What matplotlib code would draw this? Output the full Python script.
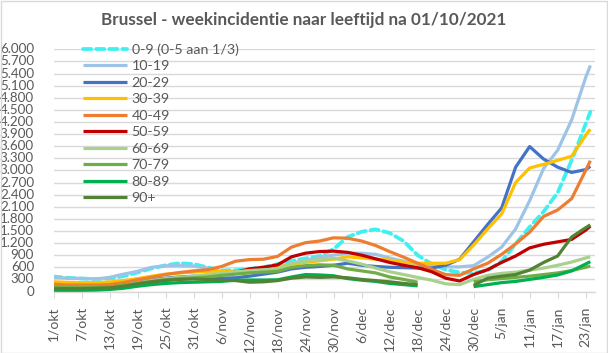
import numpy as np
import matplotlib
matplotlib.use("Agg")
import matplotlib.pyplot as plt
from matplotlib.ticker import FuncFormatter
from matplotlib.patches import Rectangle

nan = np.nan

# day offsets since 1 Oct 2021
days = [0, 3, 6, 9, 12, 15, 18, 21, 24, 27, 30, 33, 36, 39, 42, 45, 48, 51, 54, 57,
        60, 63, 66, 69, 72, 75, 78, 81, 84, 87, 90, 93, 96, 99, 102, 105, 108, 111, 114, 115]

age_labels = ["0-9 (0-5 aan 1/3)", "10-19", "20-29", "30-39", "40-49",
              "50-59", "60-69", "70-79", "80-89", "90+"]

v_0_9 = [370, 340, 320, 310, 320, 380, 470, 570, 650, 700, 680, 600, 520, 530, 560, 600, 680, 760, 820, 880,
         1050, 1350, 1480, 1540, 1450, 1250, 900, 680, 540, 470, 460, 520, 750, 1180, 1600, 1980, 2450, 3250, 4150, 4450]
v_10_19 = [350, 330, 325, 310, 350, 430, 500, 600, 635, 640, 630, 580, 480, 470, 500, 540, 600, 700, 770, 850,
           900, 950, 950, 920, 830, 750, 670, 630, 610, 610, 640, 850, 1100, 1550, 2250, 3050, 3500, 4250, 5300, 5600]
v_20_29 = [160, 150, 150, 150, 170, 220, 270, 300, 330, 360, 380, 360, 330, 340, 380, 430, 480, 560, 600, 620,
           650, 700, 650, 620, 600, 590, 580, 580, 650, 800, 1230, 1660, 2070, 3080, 3590, 3280, 3080, 2950, 3020, 3100]
v_30_39 = [240, 225, 220, 220, 235, 270, 320, 380, 430, 460, 480, 500, 500, 500, 520, 560, 600, 680, 720, 760,
           800, 860, 830, 800, 780, 720, 700, 700, 700, 790, 1150, 1550, 1920, 2700, 3060, 3150, 3250, 3350, 3870, 4020]
v_40_49 = [180, 160, 160, 160, 170, 220, 290, 350, 420, 470, 510, 540, 620, 750, 790, 800, 870, 1100, 1210, 1250,
           1330, 1320, 1250, 1140, 990, 850, 700, 550, 420, 400, 560, 700, 920, 1180, 1470, 1860, 2020, 2300, 3000, 3240]
v_50_59 = [90, 90, 95, 95, 110, 150, 190, 230, 280, 310, 340, 370, 430, 480, 560, 600, 660, 860, 950, 990,
           1000, 970, 900, 810, 720, 650, 590, 490, 330, 260, 420, 540, 720, 880, 1080, 1170, 1230, 1290, 1520, 1620]
v_60_69 = [100, 100, 100, 100, 110, 150, 210, 270, 320, 350, 380, 420, 450, 490, 520, 540, 560, 700, 750, 790,
           820, 760, 680, 580, 490, 420, 350, 280, 190, 170, 300, 400, 450, 480, 530, 580, 650, 730, 830, 860]
v_70_79 = [110, 100, 100, 100, 110, 150, 200, 250, 290, 320, 340, 360, 400, 430, 460, 480, 500, 600, 640, 660,
           650, 560, 510, 460, 360, 300, 230, nan, nan, nan, 240, 290, 320, 350, 380, 420, 460, 520, 600, 630]
v_80_89 = [30, 30, 30, 35, 50, 80, 130, 170, 200, 220, 230, 240, 250, 280, 285, 285, 290, 360, 420, 410,
           390, 320, 280, 250, 200, 170, 140, nan, nan, nan, 120, 170, 220, 250, 300, 350, 410, 510, 680, 740]
v_90 = [70, 70, 70, 80, 90, 130, 190, 240, 280, 300, 310, 300, 280, 270, 230, 240, 270, 330, 360, 350,
        360, 340, 300, 270, 240, 200, 170, nan, nan, nan, 150, 330, 380, 420, 530, 720, 880, 1350, 1580, 1650]

series = [v_0_9, v_10_19, v_20_29, v_30_39, v_40_49, v_50_59, v_60_69, v_70_79, v_80_89, v_90]
colors = ["#3FF0F0", "#9DC3E6", "#4472C4", "#FFC000", "#ED7D31",
          "#C00000", "#A9D18E", "#70AD47", "#00B050", "#548235"]

tick_days = [0, 6, 12, 18, 24, 30, 36, 42, 48, 54, 60, 66, 72, 78, 84, 90, 96, 102, 108, 114]
tick_labels = ["1/okt", "7/okt", "13/okt", "19/okt", "25/okt", "31/okt", "6/nov", "12/nov",
               "18/nov", "24/nov", "30/nov", "6/dec", "12/dec", "18/dec", "24/dec", "30/dec",
               "5/jan", "11/jan", "17/jan", "23/jan"]
y_ticks = [0, 300, 600, 900, 1200, 1500, 1800, 2100, 2400, 2700, 3000, 3300, 3600,
           3900, 4200, 4500, 4800, 5100, 5400, 5700, 6000]

title = "Brussel - weekincidentie naar leeftijd na 01/10/2021"

plt.rcParams['font.family'] = ['Lato', 'DejaVu Sans']
txt = "#595959"
grid = "#D9D9D9"

W, H = 608, 353
fig = plt.figure(figsize=(W / 100, H / 100), dpi=100)
left, right, top, bottom = 53.5, 595, 49.3, 291.5
ax = fig.add_axes([left / W, 1 - bottom / H, (right - left) / W, (bottom - top) / H])

for i, (vals, c, lab) in enumerate(zip(series, colors, age_labels)):
    if i == 0:
        ax.plot(days, vals, color=c, lw=2.7, ls=(0, (2.2, 1.3)), dash_capstyle='round', label=lab, zorder=2)
    else:
        ax.plot(days, vals, color=c, lw=2.3, solid_capstyle='butt', label=lab, zorder=2 + i)

ax.set_xlim(0, 116)
ax.set_ylim(0, 6000)
ax.set_yticks(y_ticks)
ax.yaxis.set_major_formatter(FuncFormatter(lambda v, p: f"{int(v):,}".replace(",", ".")))
ax.set_xticks(tick_days)
ax.set_xticklabels(tick_labels, rotation=90, ha='center', va='top')
ax.grid(axis='y', color=grid, lw=1.0)
ax.set_axisbelow(True)
for s in ['left', 'right', 'top']:
    ax.spines[s].set_visible(False)
ax.spines['bottom'].set_color(grid)
ax.spines['bottom'].set_linewidth(1.0)
ax.tick_params(axis='y', length=0, pad=14, labelsize=9.6, labelcolor=txt)
ax.tick_params(axis='x', length=4, color=grid, pad=7, labelsize=10, labelcolor=txt)
for t in ax.get_yticklabels():
    t.set_verticalalignment('center')

leg = ax.legend(loc='upper left', bbox_to_anchor=(83 / W, 1 - 43.5 / H), bbox_transform=fig.transFigure,
                frameon=False, fontsize=10.3, handlelength=3.1, handletextpad=0.3, labelspacing=0.31,
                borderpad=0, borderaxespad=0)
for t in leg.get_texts():
    t.set_color(txt)

fig.text(0.5, 1 - 20 / H, title, ha='center', va='center', fontsize=12.3, fontweight='bold', color=txt)
fig.patches.append(Rectangle((0.5 / W, 0.5 / H), 1 - 1.5 / W, 1 - 1.5 / H, transform=fig.transFigure,
                             fill=False, edgecolor=grid, lw=1.0))

fig.savefig("out.png", dpi=100)
